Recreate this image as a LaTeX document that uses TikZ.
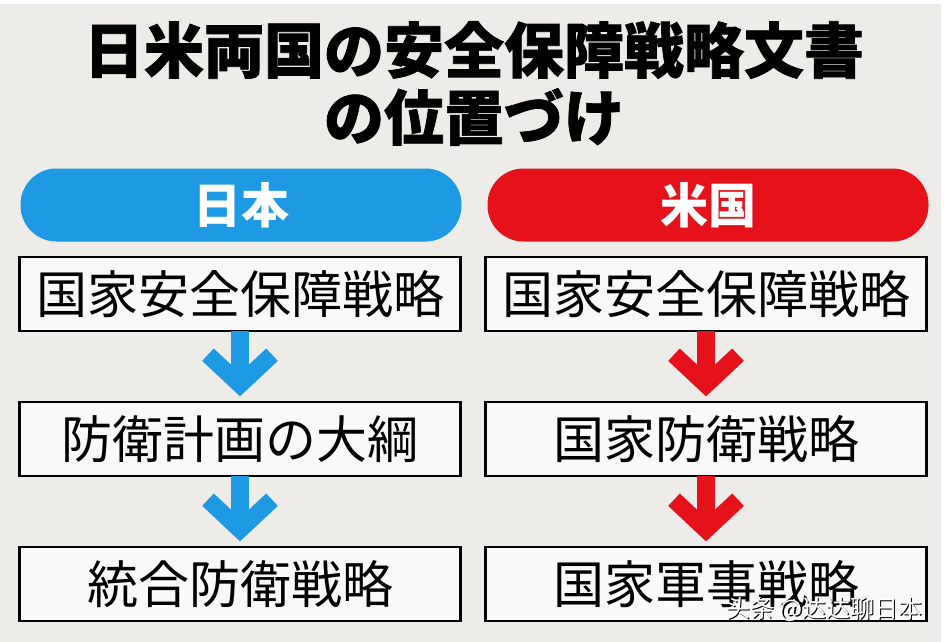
\documentclass[tikz,border=0pt]{standalone}
\usepackage{fontspec}
\newfontfamily\jpfont{Noto Sans CJK JP}
\newfontfamily\jptitle[FakeBold=1.2]{Noto Sans CJK JP}
\newfontfamily\scfont{Noto Sans CJK SC}
\definecolor{bg}{HTML}{EDECE9}
\definecolor{jblue}{HTML}{1E9AE4}
\definecolor{ured}{HTML}{E5121C}
\definecolor{boxfill}{HTML}{F9F9F7}
\tikzset{
  titletext/.style={font=\jptitle\bfseries\fontsize{60pt}{64pt}\selectfont},
  pill/.style={rounded corners=36pt, minimum width=441pt, minimum height=73pt, inner sep=0pt, text=white, font=\jpfont\bfseries\fontsize{48pt}{52pt}\selectfont},
  docbox/.style={draw=black, line width=2.6pt, fill=boxfill, minimum width=441pt, minimum height=74pt, inner sep=0pt, font=\jpfont\fontsize{51pt}{55pt}\selectfont},
  shaft/.style={line width=18pt},
  chev/.style={line width=17pt, miter limit=10, line cap=butt}
}
\newcommand{\downarrowshape}[3]{% top node, bottom node, colour
  \coordinate (t) at (#1.south);
  \coordinate (b) at (#2.north);
  \draw[shaft,#3] ([yshift=1pt]t) -- ([yshift=18pt]b);
  \draw[chev,#3] ([xshift=-32pt,yshift=46pt]b) -- ([yshift=16pt]b) -- ([xshift=32pt,yshift=46pt]b);
}
\newcommand{\shadowtext}[1]{\makebox[0pt][l]{\kern1.5pt\raisebox{-1.5pt}{\color{black}#1}}\color{white}#1}
\begin{document}
\begin{tikzpicture}[x=1pt,y=-1pt]
\useasboundingbox (0,0) rectangle (948,642);
\fill[white] (0,0) rectangle (948,642);
\fill[bg] (0,4) rectangle (941,642);
% title
\node[titletext] (title1) at (474,50) {日米両国の安全保障戦略文書};
\node[titletext] (title2) at (474,117) {の位置づけ};
% headers
\node[pill, fill=jblue] (jp) at (241,205) {日本};
\node[pill, fill=ured] (us) at (708,205) {米国};
% left column
\node[docbox] (j1) at (240,294) {国家安全保障戦略};
\node[docbox] (j2) at (240,439) {防衛計画の大綱};
\node[docbox] (j3) at (240,584) {統合防衛戦略};
% right column
\node[docbox] (u1) at (706,294) {国家安全保障戦略};
\node[docbox] (u2) at (706,439) {国家防衛戦略};
\node[docbox] (u3) at (706,584) {国家軍事戦略};
% arrows
\downarrowshape{j1}{j2}{jblue}
\downarrowshape{j2}{j3}{jblue}
\downarrowshape{u1}{u2}{ured}
\downarrowshape{u2}{u3}{ured}
% watermark
\node[anchor=east, font=\scfont\fontsize{24pt}{26pt}\selectfont] (wm) at (926,610) {\shadowtext{头条 @达达聊日本}};
\end{tikzpicture}
\end{document}
